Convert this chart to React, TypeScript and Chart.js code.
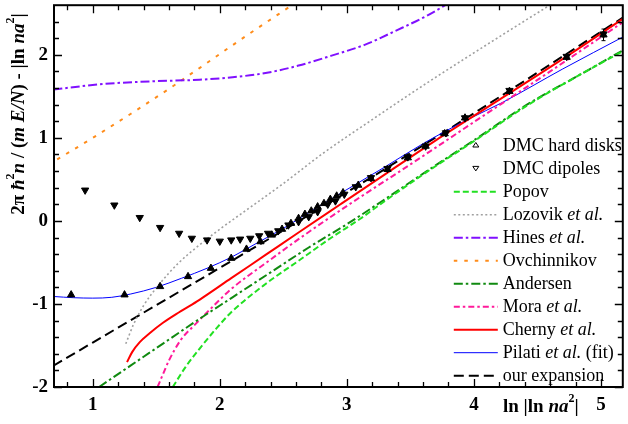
import React, { useEffect, useRef } from 'react';
import { Chart, registerables } from 'chart.js';
Chart.register(...registerables);

const X_MIN = 0.695;
const X_MAX = 5.172;
const Y_MIN = -2;
const Y_MAX = 2.597;

const xTickValues = [1, 2, 3, 4, 5];
const yTickValues = [-2, -1, 0, 1, 2];

const hardDisksX = [0.83, 1.25, 1.53, 1.75, 1.93, 2.09, 2.21, 2.32, 2.41, 2.49, 2.56, 2.62, 2.67, 2.72, 2.77, 2.82, 2.87, 2.92, 2.97, 3.09, 3.19, 3.32, 3.48, 3.62, 3.77, 3.93, 4.28, 4.73, 5.02];
const hardDisksY = [-0.89, -0.89, -0.79, -0.67, -0.57, -0.45, -0.34, -0.25, -0.17, -0.1, -0.03, 0.03, 0.08, 0.12, 0.17, 0.21, 0.26, 0.3, 0.34, 0.43, 0.51, 0.62, 0.76, 0.9, 1.05, 1.24, 1.56, 1.97, 2.24];

const dipolesX = [0.94, 1.17, 1.37, 1.53, 1.68, 1.78, 1.9, 2.0, 2.09, 2.16, 2.24, 2.31, 2.38, 2.46, 2.54, 2.62, 2.7, 2.77, 2.85, 2.91, 2.98, 3.07, 3.19, 3.32, 3.48, 3.62, 3.78, 3.93, 4.28, 4.73, 5.02];
const dipolesY = [0.37, 0.19, 0.04, -0.08, -0.15, -0.21, -0.23, -0.245, -0.23, -0.22, -0.21, -0.18, -0.15, -0.12, -0.05, -0.01, 0.05, 0.11, 0.2, 0.24, 0.32, 0.41, 0.52, 0.63, 0.77, 0.9, 1.06, 1.24, 1.57, 1.98, 2.25];

const errorBarX = [5.02];
const errorBarLow = [2.17];
const errorBarHigh = [2.31];

const popovX = [1.63, 1.73, 1.84, 1.97, 2.09, 2.36, 2.62, 2.88, 3.1, 3.3, 3.63, 4.0, 4.44, 4.8, 5.18];
const popovY = [-2.0, -1.76, -1.54, -1.3, -1.1, -0.76, -0.48, -0.2, 0.02, 0.24, 0.59, 0.96, 1.41, 1.73, 2.05];

const lozovikX = [1.26, 1.32, 1.4, 1.52, 1.68, 1.84, 2.0, 2.2, 2.5, 2.8, 3.2, 3.63, 4.1, 4.6];
const lozovikY = [-1.48, -1.25, -1.02, -0.77, -0.5, -0.29, -0.1, 0.12, 0.45, 0.8, 1.22, 1.66, 2.12, 2.6];

const hinesX = [0.69, 0.9, 1.1, 1.45, 1.84, 2.1, 2.36, 2.62, 2.88, 3.14, 3.4, 3.63, 3.8];
const hinesY = [1.58, 1.62, 1.65, 1.68, 1.7, 1.73, 1.78, 1.87, 1.99, 2.12, 2.3, 2.47, 2.62];

const ovchinnikovX = [0.72, 1.0, 1.3, 1.6, 1.84, 2.2, 2.6];
const ovchinnikovY = [0.74, 1.0, 1.29, 1.59, 1.84, 2.22, 2.63];

const andersenX = [1.05, 1.3, 1.55, 1.84, 2.1, 2.4, 2.7, 3.0, 3.27, 3.63, 4.0, 4.44, 4.8, 5.18];
const andersenY = [-2.0, -1.74, -1.48, -1.18, -0.92, -0.62, -0.32, -0.04, 0.23, 0.6, 0.97, 1.42, 1.73, 2.06];

const moraX = [1.51, 1.56, 1.6, 1.69, 1.81, 1.94, 2.09, 2.36, 2.62, 3.01, 3.5, 4.0, 4.6, 5.18];
const moraY = [-2.0, -1.82, -1.68, -1.44, -1.24, -1.04, -0.82, -0.51, -0.22, 0.19, 0.68, 1.19, 1.8, 2.4];

const chernyX = [1.27, 1.31, 1.37, 1.45, 1.55, 1.68, 1.84, 2.09, 2.36, 2.62, 2.95, 3.3, 3.7, 4.16, 4.7, 5.18];
const chernyY = [-1.7, -1.58, -1.46, -1.35, -1.23, -1.1, -0.95, -0.69, -0.41, -0.14, 0.2, 0.56, 0.97, 1.42, 1.95, 2.44];

const pilatiX = [0.69, 0.85, 1.0, 1.15, 1.3, 1.5, 1.7, 1.9, 2.1, 2.3, 2.5, 2.7, 2.97, 3.3, 3.6, 3.95, 4.23, 4.7, 5.18];
const pilatiY = [-0.91, -0.925, -0.93, -0.92, -0.88, -0.8, -0.69, -0.57, -0.43, -0.26, -0.09, 0.1, 0.35, 0.65, 0.93, 1.22, 1.43, 1.83, 2.22];

const expansionX = [0.69, 1.0, 1.3, 1.6, 1.84, 2.1, 2.4, 2.7, 3.0, 3.3, 3.6, 4.0, 4.5, 5.18];
const expansionY = [-1.745, -1.465, -1.195, -0.925, -0.71, -0.475, -0.205, 0.07, 0.345, 0.625, 0.91, 1.295, 1.785, 2.455];

const labels = [
  'DMC hard disks', 'DMC dipoles', 'Popov', 'Lozovik *et al.*', 'Hines *et al.*', 'Ovchinnikov',
  'Andersen', 'Mora *et al.*', 'Cherny *et al.*', 'Pilati *et al.* (fit)', 'our expansion',
];

const FONT = '"Liberation Serif", "Times New Roman", serif';

const zip = (xs: number[], ys: number[]) => xs.map((x, i) => ({ x, y: ys[i] }));

function lineDs(label: string, xs: number[], ys: number[], color: string, width: number, dash: number[]) {
  return {
    label,
    data: zip(xs, ys),
    showLine: true,
    borderColor: color,
    backgroundColor: color,
    borderWidth: width,
    borderDash: dash,
    pointRadius: 0,
    pointHoverRadius: 0,
    cubicInterpolationMode: 'monotone' as const,
  };
}

type Seg = { t: string; it?: boolean; sup?: boolean };

function drawSegs(ctx: CanvasRenderingContext2D, segs: Seg[], x: number, y: number, size: number, bold: boolean, center: boolean) {
  const fontFor = (s: Seg) => `${s.it ? 'italic ' : ''}${bold ? 'bold ' : ''}${s.sup ? Math.round(size * 0.62) : size}px ${FONT}`;
  let total = 0;
  for (const s of segs) {
    ctx.font = fontFor(s);
    total += ctx.measureText(s.t).width;
  }
  let cx = center ? x - total / 2 : x;
  for (const s of segs) {
    ctx.font = fontFor(s);
    ctx.fillText(s.t, cx, s.sup ? y - size * 0.42 : y);
    cx += ctx.measureText(s.t).width;
  }
}

const decor = {
  id: 'decor',
  afterDraw(chart: any) {
    const { ctx, chartArea: a, scales } = chart;
    const xs = scales.x;
    const ys = scales.y;
    ctx.save();
    ctx.strokeStyle = '#000';
    ctx.setLineDash([]);

    // error bars
    ctx.lineWidth = 1;
    ctx.beginPath();
    for (let i = 0; i < errorBarX.length; i++) {
      const px = Math.round(xs.getPixelForValue(errorBarX[i])) + 0.5;
      const y0 = ys.getPixelForValue(errorBarLow[i]);
      const y1 = ys.getPixelForValue(errorBarHigh[i]);
      ctx.moveTo(px, y0);
      ctx.lineTo(px, y1);
      ctx.moveTo(px - 2, y0);
      ctx.lineTo(px + 2, y0);
      ctx.moveTo(px - 2, y1);
      ctx.lineTo(px + 2, y1);
    }
    ctx.stroke();

    ctx.lineWidth = 1.3;
    ctx.beginPath();
    for (let i = Math.ceil(X_MIN * 5); i <= Math.floor(X_MAX * 5); i++) {
      const px = Math.round(xs.getPixelForValue(i / 5)) + 0.5;
      const len = i % 5 === 0 ? 8 : 5;
      ctx.moveTo(px, a.bottom);
      ctx.lineTo(px, a.bottom - len);
      ctx.moveTo(px, a.top);
      ctx.lineTo(px, a.top + len);
    }
    for (let i = Math.ceil(Y_MIN * 5); i <= Math.floor(Y_MAX * 5); i++) {
      const py = Math.round(ys.getPixelForValue(i / 5)) + 0.5;
      const len = i % 5 === 0 ? 8 : 5;
      ctx.moveTo(a.left, py);
      ctx.lineTo(a.left + len, py);
      ctx.moveTo(a.right, py);
      ctx.lineTo(a.right - len, py);
    }
    ctx.stroke();
    ctx.lineWidth = 2;
    ctx.strokeRect(a.left, a.top, a.right - a.left, a.bottom - a.top);

    // legend
    const ds = chart.data.datasets;
    const lineX0 = a.right - 169;
    const lineX1 = a.right - 125;
    const textX = a.right - 120;
    ctx.textBaseline = 'middle';
    ctx.fillStyle = '#000';
    for (let i = 0; i < ds.length; i++) {
      const d = ds[i];
      const ry = a.top + 140 + i * 23;
      if (!d.showLine) {
        const mx = (lineX0 + lineX1) / 2;
        const r = 3;
        ctx.setLineDash([]);
        ctx.lineWidth = 1;
        ctx.strokeStyle = '#000';
        ctx.beginPath();
        if (d.pointRotation === 180) {
          ctx.moveTo(mx - r, ry - r * 0.6);
          ctx.lineTo(mx + r, ry - r * 0.6);
          ctx.lineTo(mx, ry + r * 0.9);
        } else {
          ctx.moveTo(mx - r, ry + r * 0.6);
          ctx.lineTo(mx + r, ry + r * 0.6);
          ctx.lineTo(mx, ry - r * 0.9);
        }
        ctx.closePath();
        ctx.stroke();
      } else {
        ctx.strokeStyle = d.borderColor;
        ctx.lineWidth = d.borderWidth;
        ctx.setLineDash(d.borderDash || []);
        ctx.beginPath();
        ctx.moveTo(lineX0, ry + 0.5);
        ctx.lineTo(lineX1, ry + 0.5);
        ctx.stroke();
      }
      const parts = String(d.label).split('*');
      const segs: Seg[] = parts.map((t, k) => ({ t, it: k % 2 === 1 }));
      ctx.fillStyle = '#000';
      drawSegs(ctx, segs, textX, ry + 1, 18, false, false);
    }
    ctx.setLineDash([]);

    // y title
    ctx.save();
    ctx.translate(19, 114);
    ctx.rotate(-Math.PI / 2);
    ctx.textBaseline = 'middle';
    drawSegs(ctx, [
      { t: '2π ' }, { t: 'ħ', it: true }, { t: '2', sup: true }, { t: 'n', it: true },
      { t: ' / (' }, { t: 'm E/N', it: true }, { t: ') - |ln ' }, { t: 'na', it: true },
      { t: '2', sup: true }, { t: '|' },
    ], 0, 0, 19, true, true);
    ctx.restore();

    // x title
    ctx.textBaseline = 'middle';
    drawSegs(ctx, [
      { t: 'ln |ln ' }, { t: 'na', it: true }, { t: '2', sup: true }, { t: '|' },
    ], 503, 407, 19, true, false);
    ctx.restore();
  },
};

export default function App() {
  const ref = useRef<HTMLCanvasElement>(null);
  useEffect(() => {
    if (!ref.current) return;
    const datasets: any[] = [
      {
        label: labels[0], data: zip(hardDisksX, hardDisksY), showLine: false,
        pointStyle: 'triangle', pointRadius: 4.2, pointRotation: 0,
        backgroundColor: '#000', borderColor: '#000', borderWidth: 1,
      },
      {
        label: labels[1], data: zip(dipolesX, dipolesY), showLine: false,
        pointStyle: 'triangle', pointRadius: 4.2, pointRotation: 180,
        backgroundColor: '#000', borderColor: '#000', borderWidth: 1,
      },
      lineDs(labels[2], popovX, popovY, '#22e022', 2, [6, 3]),
      lineDs(labels[3], lozovikX, lozovikY, '#a0a0a0', 1.6, [2, 2.5]),
      lineDs(labels[4], hinesX, hinesY, '#8010ff', 2, [9, 3, 2.5, 3]),
      lineDs(labels[5], ovchinnikovX, ovchinnikovY, '#ff8c1a', 2, [3.5, 7]),
      lineDs(labels[6], andersenX, andersenY, '#108a10', 2, [9, 3, 2.5, 3]),
      lineDs(labels[7], moraX, moraY, '#ff1a9a', 2, [6, 3, 2.5, 3]),
      lineDs(labels[8], chernyX, chernyY, '#ff0000', 2, []),
      lineDs(labels[9], pilatiX, pilatiY, '#0000ff', 1, []),
      lineDs(labels[10], expansionX, expansionY, '#000000', 2, [10, 5]),
    ];
    const noPad = (s: any) => {
      s.paddingTop = 0;
      s.paddingBottom = 0;
      s.paddingLeft = 0;
      s.paddingRight = 0;
    };
    const chart = new Chart(ref.current, {
      type: 'scatter',
      data: { datasets },
      options: {
        animation: false,
        responsive: false,
        maintainAspectRatio: false,
        events: [],
        layout: { padding: { top: 2, right: 1, left: 0, bottom: 0 } },
        plugins: { legend: { display: false }, tooltip: { enabled: false } },
        scales: {
          x: {
            type: 'linear', min: X_MIN, max: X_MAX,
            afterBuildTicks: (s: any) => { s.ticks = xTickValues.map((v) => ({ value: v })); },
            afterFit: (s: any) => { s.height = 37; noPad(s); },
            grid: { display: false, drawTicks: false },
            border: { display: false },
            ticks: {
              padding: 7, color: '#000', maxRotation: 0, autoSkip: false,
              font: { family: FONT, size: 19, weight: 'bold' },
            },
          },
          y: {
            type: 'linear', min: Y_MIN, max: Y_MAX,
            afterBuildTicks: (s: any) => { s.ticks = yTickValues.map((v) => ({ value: v })); },
            afterFit: (s: any) => { s.width = 54; noPad(s); },
            grid: { display: false, drawTicks: false },
            border: { display: false },
            ticks: {
              padding: 6, color: '#000', autoSkip: false,
              font: { family: FONT, size: 19, weight: 'bold' },
            },
          },
        },
      },
      plugins: [decor],
    });
    return () => chart.destroy();
  }, []);
  return (
    <div style={{ position: 'fixed', left: 0, top: 0, width: 628, height: 424, background: '#fff' }}>
      <canvas ref={ref} width={628} height={424} style={{ width: 628, height: 424, display: 'block' }} />
    </div>
  );
}
